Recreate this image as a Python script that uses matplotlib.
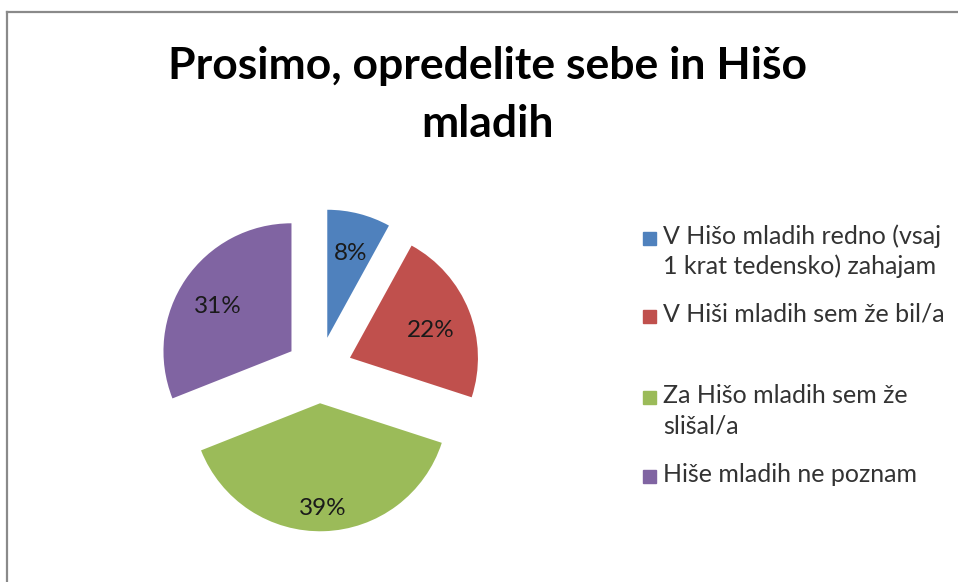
import numpy as np
import matplotlib.pyplot as plt
from matplotlib.lines import Line2D
from matplotlib.patches import Rectangle

plt.rcParams['font.family'] = ['Lato', 'DejaVu Sans']

W, H = 958, 582

# podatki
kategorije = ['V Hišo mladih redno (vsaj\n1 krat tedensko) zahajam',
              'V Hiši mladih sem že bil/a',
              'Za Hišo mladih sem že\nslišal/a',
              'Hiše mladih ne poznam']
odstotki = [8, 22, 39, 31]
barve = ['#4F81BD', '#C0504D', '#9BBB59', '#8064A2']
naslov = 'Prosimo, opredelite sebe in Hišo\nmladih'

fig = plt.figure(figsize=(W / 100, H / 100), dpi=100)
fig.patch.set_facecolor('white')

# okvir (levo in zgoraj)
fig.add_artist(Line2D([7 / W, 7 / W], [0, 1 - 12 / H], color='#8a8a8a', lw=1.6))
fig.add_artist(Line2D([7 / W, 1], [1 - 12 / H, 1 - 12 / H], color='#8a8a8a', lw=1.6))

# naslov
fig.text(487 / W, 1 - 46 / H, naslov, ha='center', va='top', multialignment='center',
         fontsize=32, fontweight='bold', color='black', linespacing=1.55)

# pita
r_px = 128
cx, cy = 319, 370
ax = fig.add_axes([(cx - 1.5 * r_px) / W, (H - cy - 1.5 * r_px) / H,
                   3 * r_px / W, 3 * r_px / H])
wedges, texts, autotexts = ax.pie(odstotki, colors=barve, startangle=90, counterclock=False,
                                  explode=[0.26] * 4, autopct='%d%%', pctdistance=0.72,
                                  wedgeprops=dict(linewidth=0),
                                  textprops=dict(fontsize=17.5, color='#1a1a1a'))
# oznake malo bolj po excelovo (razdalja od središča)
razdalje = [0.72, 0.68, 0.78, 0.70]
for w, t, d in zip(wedges, autotexts, razdalje):
    kot = np.deg2rad((w.theta1 + w.theta2) / 2)
    x0, y0 = w.center
    t.set_position((x0 + d * np.cos(kot), y0 + d * np.sin(kot) - 0.04))
ax.set_xlim(-1.5, 1.5)
ax.set_ylim(-1.5, 1.5)
ax.set_aspect('equal')
ax.axis('off')

# legenda
vrstice = [244, 322, 403, 482]
for kat, barva, y in zip(kategorije, barve, vrstice):
    fig.add_artist(Rectangle((643 / W, 1 - (y + 1) / H), 13 / W, 13 / H,
                             transform=fig.transFigure, color=barva))
    for j, vr in enumerate(kat.split('\n')):
        fig.text(663 / W, 1 - (y + 30 * j) / H, vr, ha='left', va='baseline',
                 fontsize=18, color='#333333')

fig.savefig('out.png', dpi=100, facecolor='white')
